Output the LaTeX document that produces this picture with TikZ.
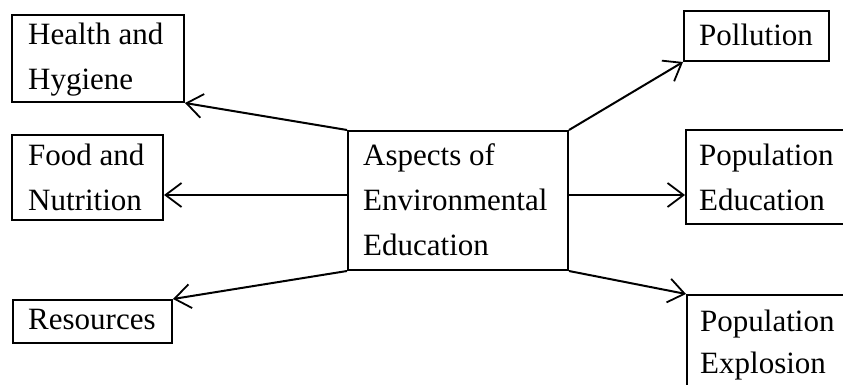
\documentclass[tikz,border=0pt]{standalone}
\usepackage{fontspec}
\setmainfont{Liberation Serif}
\usetikzlibrary{arrows.meta}
\newcommand{\txtlines}[2]{\fontsize{31}{#1}\selectfont\begin{tabular}[t]{@{}l@{}}#2\end{tabular}}
\begin{document}
\begin{tikzpicture}[x=1pt,y=-1pt,
  box/.style={draw, line width=2pt, inner sep=0pt, rectangle},
  txt/.style={anchor=base west, inner sep=0pt},
  conn/.style={line width=2pt, -{Straight Barb[length=16pt,width=24pt,line width=1.8pt]}}]
\useasboundingbox (0,0) rectangle (843,385);
\clip (0,0) rectangle (843,385);
% boxes
\node[box, minimum width=172pt, minimum height=87pt] (health) at (98,58.5) {};
\node[box, minimum width=151pt, minimum height=85pt] (food) at (87.5,177.5) {};
\node[box, minimum width=159pt, minimum height=43pt] (res) at (92.5,321.5) {};
\node[box, minimum width=220pt, minimum height=139pt] (center) at (458,200.5) {};
\node[box, minimum width=145pt, minimum height=50pt] (poll) at (756.5,36) {};
\node[box, minimum width=184pt, minimum height=94pt] (poped) at (778,177) {};
\node[box, minimum width=183pt, minimum height=115pt] (popex) at (778.5,352.5) {};
% texts
\node[txt] (thealth) at (28,45) {\txtlines{45}{Health and\\Hygiene}};
\node[txt] (tfood) at (28,165) {\txtlines{45}{Food and\\Nutrition}};
\node[txt] (tres) at (28,329) {\txtlines{45}{Resources}};
\node[txt] (tcenter) at (363,165) {\txtlines{45}{Aspects of\\Environmental\\Education}};
\node[txt] (tpoll) at (699,46) {\txtlines{45}{Pollution}};
\node[txt] (tpoped) at (699,165) {\txtlines{45}{Population\\Education}};
\node[txt] (tpopex) at (700,331) {\txtlines{42}{Population\\Explosion}};
% connectors
\draw[conn] (center.north west) -- (health.south east);
\draw[conn] ([yshift=5.5pt]center.west) -- ([yshift=5.5pt]center.west -| food.east);
\draw[conn] (center.south west) -- (res.north east);
\draw[conn] (center.north east) -- (poll.south west);
\draw[conn] ([yshift=5.5pt]center.east) -- ([yshift=5.5pt]center.east -| poped.west);
\draw[conn] (center.south east) -- (popex.north west);
\end{tikzpicture}
\end{document}
